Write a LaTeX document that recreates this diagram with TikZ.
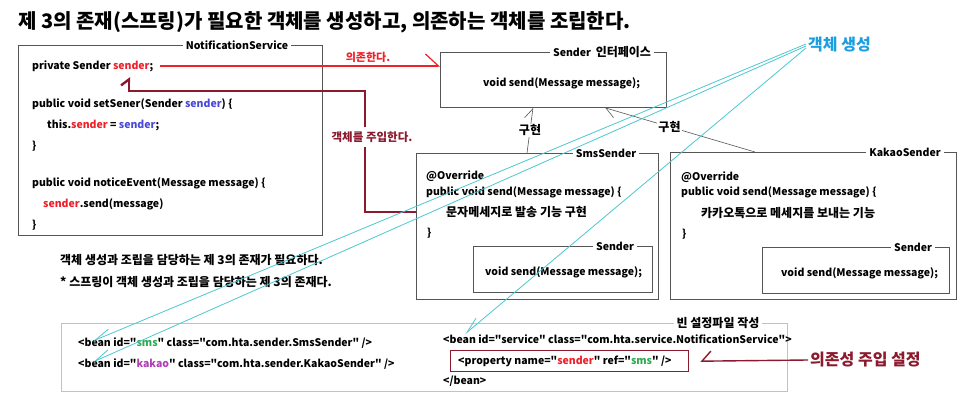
\documentclass[tikz,border=0pt]{standalone}
\usepackage{fontspec}
\setmainfont{Noto Sans CJK KR}[Ligatures=TeXOff]
\usepackage{tikz}
\usetikzlibrary{arrows.meta,positioning,calc}

\definecolor{maroon}{HTML}{8B1A2E}
\definecolor{redtxt}{HTML}{F0202A}
\definecolor{bluetxt}{HTML}{4A4AD8}
\definecolor{greentxt}{HTML}{2EAA50}
\definecolor{purpletxt}{HTML}{B040B8}
\definecolor{cyanline}{HTML}{4CC8D0}
\definecolor{skytxt}{HTML}{1C9FE0}
\definecolor{peach}{HTML}{F2B48A}
\definecolor{framegray}{HTML}{555555}

\newcommand\codefont{\fontsize{10.5}{12}\selectfont\bfseries}
\newcommand\krfont{\fontsize{12}{14}\selectfont\bfseries}
\newcommand\kr[1]{{\krfont #1}}
\newcommand\rd[1]{{\color{redtxt}#1}}
\newcommand\bl[1]{{\color{bluetxt}#1}}

\begin{document}
\begin{tikzpicture}[x=1pt,y=-1pt,
  panel/.style={draw=framegray, line width=0.8pt, anchor=north west, inner sep=0pt},
  tag/.style={fill=white, inner xsep=3pt, inner ysep=0pt, font=\codefont},
  code/.style={anchor=west, inner sep=0pt, font=\codefont},
  note/.style={anchor=west, inner sep=0pt, font=\krfont},
  depend/.style={draw=redtxt, line width=1.2pt, -{Straight Barb[harpoon, length=13pt, width=24pt]}},
  inject/.style={draw=maroon, line width=2.4pt, -{Straight Barb[harpoon, length=6pt, width=16pt]}},
  impl/.style={draw=framegray, line width=0.6pt, -{Straight Barb[harpoon, length=10pt, width=14pt]}},
  create/.style={draw=cyanline, line width=0.8pt, -{Straight Barb[harpoon, swap, length=16pt, width=10pt]}},
  settip/.style={draw=maroon, line width=1.4pt, -{Straight Barb[harpoon, swap, length=9pt, width=20pt]}}]
  \fill[white] (0,0) rectangle (978,411);
  \useasboundingbox (0,0) rectangle (978,411);

  % title
  \node[anchor=west, inner sep=0pt, font=\fontsize{20}{24}\selectfont\bfseries] (title) at (18,22)
    {제 3의 존재(스프링)가 필요한 객체를 생성하고, 의존하는 객체를 조립한다.};

  % NotificationService
  \node[panel, minimum width=304pt, minimum height=190pt] (ns) at (18,45) {};
  \node[tag] at (237,45) {NotificationService};
  \node[code] (priv) at (32,66) {private Sender \rd{sender};};
  \node[code] at (32,104) {public void setSener(Sender \bl{sender}) \{};
  \node[code] at (47,125) {this.\rd{sender} = \bl{sender};};
  \node[code] at (32,146) {\}};
  \node[code] at (32,183) {public void noticeEvent(Message message) \{};
  \node[code] at (43,204) {\rd{sender}.send(message)};
  \node[code] at (32,225) {\}};

  % Sender interface
  \node[panel, minimum width=226pt, minimum height=55pt] (iface) at (440,52) {};
  \node[tag] at (602,52) {Sender\ \ \kr{인터페이스}};
  \node[code] at (483,83) {void send(Message message);};

  % SmsSender
  \node[panel, minimum width=242pt, minimum height=146pt] (smsbox) at (416,153) {};
  \node[tag] at (606,153) {SmsSender};
  \node[code] at (426,176) {@Override};
  \node[code] at (426,192) {public void send(Message message) \{};
  \node[note] (smsimpl) at (446,212) {문자메세지로 발송 기능 구현};
  \node[code] at (427,233) {\}};
  \node[panel, minimum width=179pt, minimum height=46pt] (smsif) at (473,246) {};
  \node[tag] at (615,246) {Sender};
  \node[code] at (485,272) {void send(Message message);};

  % KakaoSender
  \node[panel, minimum width=286pt, minimum height=147pt] (kakaobox) at (670,152) {};
  \node[tag] at (905,152) {KakaoSender};
  \node[code] at (681,177) {@Override};
  \node[code] at (681,192) {public void send(Message message) \{};
  \node[note] at (701,213) {카카오톡으로 메세지를 보내는 기능};
  \node[code] at (682,234) {\}};
  \node[panel, minimum width=187pt, minimum height=46pt] (kakaoif) at (762,247) {};
  \node[tag] at (913,247) {Sender};
  \node[code] at (781,273) {void send(Message message);};

  % notes
  \node[note] at (60,260) {객체 생성과 조립을 담당하는 제 3의 존재가 필요하다.};
  \node[note] at (60,282) {* 스프링이 객체 생성과 조립을 담당하는 제 3의 존재다.};

  % bean config
  \node[panel, draw=peach, minimum width=726pt, minimum height=68pt] (beans) at (61,323) {};
  \node[tag, font=\krfont] at (718,323) {빈 설정파일 작성};
  \node[code] (beansms) at (78,343) {<bean id="{\color{greentxt}sms}" class="com.hta.sender.SmsSender" />};
  \node[code] (beankakao) at (78,364) {<bean id="{\color{purpletxt}kakao}" class="com.hta.sender.KakaoSender" />};
  \node[code] (beansvc) at (443,339) {<bean id="service" class="com.hta.service.NotificationService">};
  \node[panel, draw=maroon, line width=1.4pt, minimum width=238pt, minimum height=21pt] (propbox) at (450,350) {};
  \node[code] at (458,361) {<property name="\rd{sender}" ref="{\color{greentxt}sms}" />};
  \node[code] at (443,381) {</bean>};

  % callouts
  \node[anchor=west, inner sep=2pt, text=skytxt, font=\fontsize{16}{19}\selectfont\bfseries] (objnew) at (806,45) {객체 생성};
  \node[anchor=west, inner sep=2pt, text=maroon, font=\fontsize{16}{19}\selectfont\bfseries] (dilbl) at (808,360) {의존성 주입 설정};

  % connectors
  \draw[depend] ([xshift=7pt]priv.east) -- (priv.east -| iface.west);
  \node[text=redtxt, font=\fontsize{11}{13}\selectfont\bfseries] at (368,57) {의존한다.};

  \coordinate (injbend) at (365,91);
  \coordinate (injtip) at (129,77);
  \draw[inject] (smsbox.west |- smsimpl) -| (injbend) -| (injtip);
  \node[fill=white, inner xsep=1pt, inner ysep=5pt, text=maroon, font=\fontsize{11.5}{13}\selectfont\bfseries] at (372,137) {객체를 주입한다.};

  \draw[impl] ([xshift=111pt]smsbox.north west) -- node[fill=white, inner sep=1pt, font=\krfont] {구현} ([xshift=93pt]iface.south west);
  \draw[impl] ([xshift=85pt]kakaobox.north west) -- node[pos=0.57, fill=white, inner sep=1pt, font=\krfont] {구현} ([xshift=165pt]iface.south west);

  \draw[create] ($(objnew.west)+(0,-1)$) -- ($(beansms.west)+(15,-2)$);
  \draw[create] ($(objnew.west)+(0,1)$) -- ($(beankakao.west)+(15,-2)$);
  \draw[create] ($(objnew.west)+(0,3)$) -- ($(beansvc.west)+(22,-5)$);

  \draw[settip] (dilbl.west) -- ([xshift=11pt]propbox.east);
\end{tikzpicture}
\end{document}
